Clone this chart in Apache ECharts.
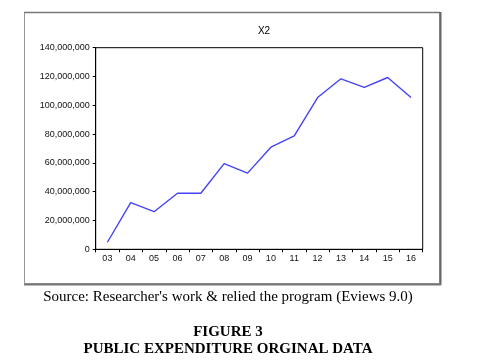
<!DOCTYPE html>
<html>
<head>
<meta charset="utf-8">
<script src="https://cdn.jsdelivr.net/npm/echarts@6/dist/echarts.min.js"></script>
<style>html,body{margin:0;padding:0;background:#fff;}#c{width:488px;height:364px;}</style>
</head>
<body>
<div id="c"></div>
<script>
var categories = ['03','04','05','06','07','08','09','10','11','12','13','14','15','16'];
var x2Values = [4900000, 32400000, 26100000, 38900000, 38900000, 59500000, 52900000, 70900000, 78800000, 105400000, 118400000, 112400000, 119300000, 105400000];
var yTicks = [0, 20000000, 40000000, 60000000, 80000000, 100000000, 120000000, 140000000];
var chartTitle = 'X2';
var sourceText = "Source: Researcher's work & relied the program (Eviews 9.0)";
var figureText = 'FIGURE 3';
var captionText = 'PUBLIC EXPENDITURE ORGINAL DATA';

var chart = echarts.init(document.getElementById('c'), null, {renderer: 'canvas'});
var serif = '"Liberation Serif","Times New Roman",serif';
var sans = '"Liberation Sans",Arial,sans-serif';
chart.setOption({
  animation: false,
  backgroundColor: '#fff',
  title: {
    text: chartTitle, left: 259, top: 21, textAlign: 'center',
    textStyle: {fontFamily: sans, fontSize: 10, fontWeight: 'normal', color: '#000'}
  },
  grid: {left: 95.7, right: 65.3, top: 47.7, bottom: 114.7, show: true, borderColor: '#000', borderWidth: 1, backgroundColor: 'transparent'},
  xAxis: {
    type: 'category', data: categories, boundaryGap: true,
    axisLine: {lineStyle: {color: '#000', width: 1}},
    axisTick: {show: true, length: 3, inside: false, lineStyle: {color: '#000'}},
    axisLabel: {interval: 0, fontFamily: sans, fontSize: 9, color: '#111', margin: 5}
  },
  yAxis: {
    type: 'value', min: yTicks[0], max: yTicks[yTicks.length - 1], interval: yTicks[1] - yTicks[0],
    splitLine: {show: false},
    axisLine: {show: true, lineStyle: {color: '#000', width: 1}},
    axisTick: {show: true, length: 3, lineStyle: {color: '#000'}},
    axisLabel: {fontFamily: sans, fontSize: 9, color: '#111', margin: 6,
      formatter: function (v) { return v.toLocaleString('en-US'); }}
  },
  series: [{
    type: 'line', data: x2Values, symbol: 'none',
    lineStyle: {color: '#4444f6', width: 1.4}
  }],
  graphic: [
    {type: 'rect', shape: {x: 24.5, y: 12.5, width: 415, height: 271}, style: {fill: 'none', stroke: '#999', lineWidth: 1}, z: 100},
    {type: 'line', shape: {x1: 24, y1: 12.5, x2: 440, y2: 12.5}, style: {stroke: '#777', lineWidth: 1.5}, z: 101},
    {type: 'line', shape: {x1: 440.5, y1: 12, x2: 440.5, y2: 285}, style: {stroke: '#666', lineWidth: 2}, z: 101},
    {type: 'line', shape: {x1: 24, y1: 284.5, x2: 441, y2: 284.5}, style: {stroke: '#777', lineWidth: 2}, z: 101},
    {type: 'text', x: 228, y: 297, style: {text: sourceText, font: '15px ' + serif, fill: '#000', textAlign: 'center', textVerticalAlign: 'middle'}},
    {type: 'text', x: 228, y: 332, style: {text: figureText, font: 'bold 15px ' + serif, fill: '#000', textAlign: 'center', textVerticalAlign: 'middle'}},
    {type: 'text', x: 228, y: 349, style: {text: captionText, font: 'bold 15px ' + serif, fill: '#000', textAlign: 'center', textVerticalAlign: 'middle'}}
  ]
});
</script>
</body>
</html>
